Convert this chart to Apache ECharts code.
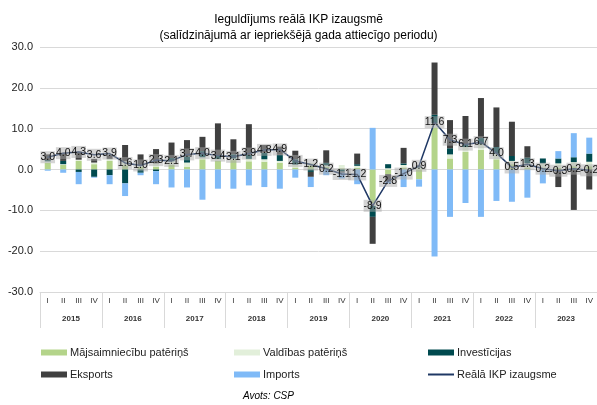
<!DOCTYPE html>
<html>
<head>
<meta charset="utf-8">
<script src="https://cdn.jsdelivr.net/npm/echarts@6/dist/echarts.min.js"></script>
<style>
  html, body { margin: 0; padding: 0; background: #fff; }
  #chart { width: 597px; height: 405px; }
</style>
</head>
<body>
<div id="chart"></div>
<script>
'use strict';

var quarters = [];
var years = ['2015', '2016', '2017', '2018', '2019', '2020', '2021', '2022', '2023'];
years.forEach(function(){ quarters.push('I', 'II', 'III', 'IV'); });

var yTicks = { min: -30, max: 30, interval: 10 };

// ieguldījums, procentpunkti
var household = [1.6, 1.1, 2.1, 1.3, 2.1, 1.0, 0.6, 0.7, 1.2, 0.7, 2.5, 2.1,
                 2.3, 2.0, 1.9, 1.6, 0.5, 1.0, 0.6, 0.3, 0.4, -8.3, -1.2, 0.5,
                 -2.4, 10.3, 2.7, 4.3, 4.8, 2.5, 1.3, 0.5, 0.5, 0.4, 0.8, 0.8];
var government = [0.4, 0.2, 0.3, 0.4, 0.5, 1.0, 0.5, 0.8, 0.8, 1.0, 0.5, 0.5,
                  0.4, 0.6, 0.6, 0.5, 0.7, 0.6, 0.4, 0.8, 0.5, -0.6, 0.3, 0.6,
                  0.5, 1.0, 1.0, 1.2, 1.4, 1.4, 0.8, 1.0, 1.0, 1.1, 1.0, 1.1];
var investment = [0.3, 0.8, -0.6, -1.8, -1.4, -3.4, -0.8, -0.4, 0.8, 1.5, 1.5, 0.9,
                  1.0, 1.0, 1.6, 1.5, 1.3, -0.6, 0.6, -0.5, 0.4, -2.7, 1.0, 0.4,
                  0.2, 2.1, 1.5, 0.5, 1.5, 1.6, 1.2, 1.4, 1.2, 1.2, 1.2, 2.0];
var exportsData = [1.4, 2.0, 2.0, 0.9, 0.9, 4.0, 2.6, 3.5, 3.8, 4.0, 3.5, 7.8,
                   3.7, 7.5, 1.9, 2.0, 2.1, -1.2, 3.1, -0.3, 2.6, -6.6, -1.8, 3.8,
                   0.3, 12.8, 6.9, 7.1, 9.8, 9.7, 8.4, 2.8, 0.0, -4.3, -9.9, -4.9];
var importsData = [-0.3, -0.8, -3.0, -0.2, -2.2, -3.1, -0.6, -3.2, -4.4, -4.4, -7.4, -4.7,
                   -4.7, -3.9, -4.3, -4.7, -2.0, -2.5, -1.4, -1.4, -3.6, 10.2, -0.4, -4.3,
                   -1.8, -21.3, -11.6, -8.2, -11.6, -7.7, -7.9, -6.9, -3.4, 1.8, 5.9, 3.9];
var gdpGrowth = [3.0, 4.0, 4.3, 3.6, 3.9, 1.6, 1.0, 2.3, 2.1, 3.7, 4.0, 3.4,
                 3.1, 3.9, 4.8, 4.9, 2.1, 1.2, 0.2, -1.1, -1.2, -8.9, -2.8, -1.0,
                 0.9, 11.6, 7.3, 6.1, 6.7, 4.0, 0.5, 1.3, 0.2, -0.3, 0.2, -0.2];

var names = ['Mājsaimniecību patēriņš', 'Valdības patēriņš', 'Investīcijas',
             'Eksports', 'Imports', 'Reālā IKP izaugsme'];
var colors = ['#b4d48a', '#e2efda', '#004a4f', '#404040', '#7fbaf7', '#1f3864'];
var font = '"Liberation Sans", Arial, sans-serif';

function barSeries(i, data){
  return {
    name: names[i],
    type: 'bar',
    stack: 'total',
    barWidth: 6,
    itemStyle: { color: colors[i] },
    data: data
  };
}

function legendCol(left, items){
  return {
    orient: 'vertical',
    left: left,
    top: 342,
    itemWidth: 26,
    itemHeight: 6,
    itemGap: 11,
    textStyle: { fontFamily: font, fontSize: 11, color: '#222', padding: [0, 0, 0, -2] },
    data: items.map(function(i){
      return i === 5 ? { name: names[i], itemStyle: { opacity: 0 } } : { name: names[i], icon: 'rect' };
    })
  };
}

var chart = echarts.init(document.getElementById('chart'));
var option = {
  animation: false,
  title: {
    text: 'Ieguldījums reālā IKP izaugsmē\n(salīdzinājumā ar iepriekšējā gada attiecīgo periodu)',
    left: 'center',
    top: 7,
    textStyle: { fontFamily: font, fontSize: 12, fontWeight: 'normal', color: '#000', lineHeight: 16 }
  },
  legend: [legendCol(36, [0, 3]), legendCol(229, [1, 4]), legendCol(422, [2, 5])],
  graphic: [{
    type: 'text',
    left: 243,
    top: 391,
    style: { text: 'Avots: CSP', font: 'italic 10px ' + font, fill: '#000' }
  }],
  grid: { left: 40, right: 0, top: 47, bottom: 113 },
  xAxis: [{
    type: 'category',
    data: quarters,
    axisLine: { onZero: false, lineStyle: { color: '#d9d9d9' } },
    axisTick: {
      show: true,
      length: 36,
      interval: function(i){ return i % 4 === 0; },
      lineStyle: { color: '#d9d9d9' }
    },
    axisLabel: { interval: 0, fontFamily: font, fontSize: 8, color: '#333', margin: 5 }
  }, {
    type: 'category',
    data: years,
    position: 'bottom',
    offset: 15,
    axisLine: { show: false },
    axisTick: { show: false },
    axisLabel: { interval: 0, fontFamily: font, fontSize: 8, fontWeight: 'bold', color: '#333' }
  }],
  yAxis: {
    type: 'value',
    min: yTicks.min,
    max: yTicks.max,
    interval: yTicks.interval,
    axisLine: { show: false },
    axisTick: { show: false },
    splitLine: { lineStyle: { color: '#d9d9d9' } },
    axisLabel: {
      fontFamily: font, fontSize: 11, color: '#222', margin: 7,
      formatter: function(v){ return v.toFixed(1); }
    }
  },
  series: [
    barSeries(0, household),
    barSeries(1, government),
    barSeries(2, investment),
    barSeries(3, exportsData),
    barSeries(4, importsData),
    {
      name: names[5],
      type: 'line',
      symbol: 'circle',
      symbolSize: 1,
      z: 5,
      itemStyle: { color: colors[5] },
      lineStyle: { color: colors[5], width: 1.5 },
      label: {
        show: true,
        position: 'inside',
        fontFamily: font,
        fontSize: 10.5,
        color: '#111',
        backgroundColor: 'rgba(170,170,170,0.5)',
        padding: [1, 0, 0, 0],
        formatter: function(p){ return p.value.toFixed(1); }
      },
      data: gdpGrowth
    }
  ]
};
chart.setOption(option);
</script>
</body>
</html>
